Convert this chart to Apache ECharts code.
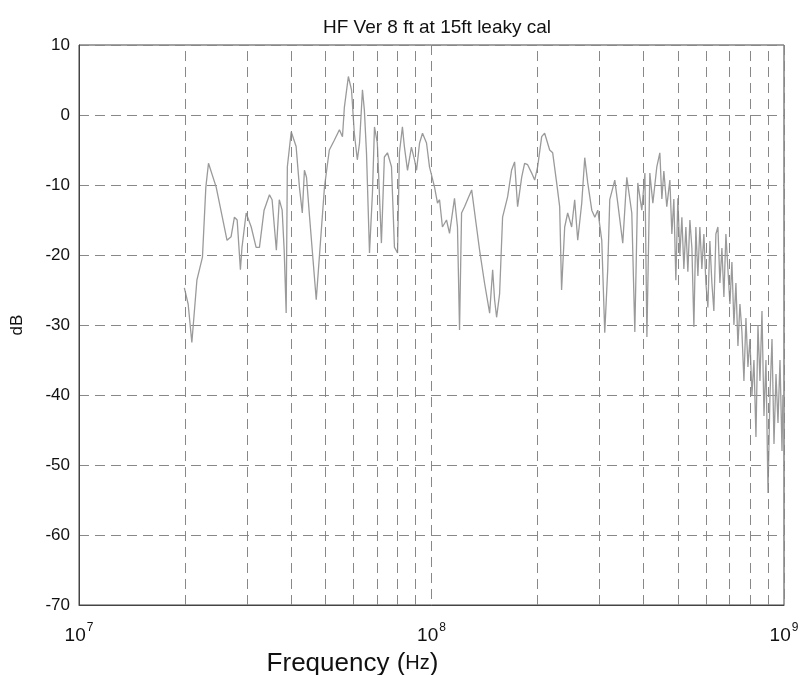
<!DOCTYPE html>
<html>
<head>
<meta charset="utf-8">
<script src="https://cdn.jsdelivr.net/npm/echarts@6/dist/echarts.min.js"></script>
<style>html,body{margin:0;padding:0;background:#fff;}#c{width:805px;height:675px;}</style>
</head>
<body>
<div id="c"></div>
<script>
// Frequency in MHz
const freqMHz = [
19.9,20.4,20.9,21.6,22.4,22.9,23.3,24.5,25.5,26.3,27.0,27.6,28.1,28.7,29.0,29.8,30.8,31.8,32.5,33.5,
34.7,35.3,36.3,37.0,37.7,38.2,38.7,39.0,40.0,41.3,42.2,43.0,43.6,44.2,45.1,47.1,49.7,51.3,53.0,54.8,
55.9,56.6,58.1,59.3,60.4,61.6,62.5,63.7,64.5,65.4,66.7,68.0,68.9,70.2,72.1,73.5,75.0,77.0,78.5,80.1,
81.1,82.7,83.8,85.5,87.7,89.5,90.7,92.5,94.3,96.8,98.7,102.0,104.0,105.4,107.4,110.3,112.5,116.2,118.5,120.1,
121.7,124.1,126.5,130.0,134.2,136.9,141.4,146.2,149.1,151.0,153.0,156.0,159.1,164.4,168.7,172.1,175.5,180.2,183.7,187.4,
192.4,196.2,200.0,205.4,209.4,216.4,220.7,226.5,231.0,233.9,238.7,243.4,249.8,254.8,259.9,266.8,272.1,277.5,284.9,290.6,
296.3,304.1,310.1,316.2,320.4,331.1,337.6,348.8,358.1,370.0,377.4,384.8,395.0,403.1,408.4,416.3,424.6,435.7,444.4,450.3,
456.2,465.0,474.5,480.7,487.0,493.4,499.9,506.5,513.2,519.9,526.8,533.7,540.8,547.9,555.1,562.3,569.8,577.2,584.8,592.5,
600.3,608.2,616.2,624.3,632.5,640.9,649.4,657.9,666.6,675.3,684.2,693.2,702.4,711.6,721.0,730.5,740.1,749.9,759.7,769.7,
779.9,790.1,800.5,811.1,821.8,832.6,843.6,854.7,866.0,877.4,888.9,900.7,912.5,924.6,936.7,949.1,961.5,974.2,987.0,993.0
];
// Level in dB
const levelDB = [
-24.7,-27,-32.5,-23.6,-20.3,-10.3,-6.9,-10.3,-14.6,-17.9,-17.4,-14.6,-15.0,-22.1,-18.9,-14.0,-16.0,-18.9,-18.9,-13.6,
-11.4,-12.1,-19.3,-12.1,-13.6,-19.3,-28.3,-7.4,-2.4,-4.5,-10.3,-14.0,-7.9,-8.9,-14.6,-26.4,-10.3,-5.0,-3.6,-2.1,
-3.1,1.1,5.5,3.6,-2.6,-6.4,-4.0,3.6,0.7,-5.4,-19.7,-11.1,-1.7,-4.0,-18.3,-6.0,-5.4,-7.4,-18.9,-19.7,
-5.4,-1.7,-4.6,-7.9,-4.6,-6.4,-7.9,-4.0,-2.6,-4.0,-7.4,-10.3,-12.6,-12.1,-16.0,-15.0,-16.9,-11.9,-16.0,-30.7,
-14.0,-13.1,-12.1,-10.7,-16.0,-19.3,-24.0,-28.3,-22.1,-26.4,-28.9,-25.6,-14.6,-11.7,-7.9,-6.7,-13.1,-8.9,-6.9,-7.1,
-8.3,-9.3,-7.4,-3.1,-2.6,-5.0,-5.4,-9.7,-13.1,-25.0,-16.0,-14.0,-16.0,-12.1,-17.9,-12.6,-6.1,-9.7,-13.6,-14.6,
-13.6,-17.9,-31.1,-22.0,-12.1,-9.3,-12.6,-18.3,-8.9,-14.0,-31.0,-9.7,-13.6,-8.3,-31.7,-8.3,-12.6,-7.4,-5.4,-12,
-8,-13.1,-9.3,-17,-12,-23.6,-11.9,-20,-14.6,-22,-16,-22.4,-15,-19,-30.3,-16,-23,-16,-22,-17,
-24,-27.5,-18,-24,-28,-17,-16,-24,-19,-26,-17,-22,-27,-21,-30,-24,-33,-27,-31,-38,
-29,-36,-32,-40,-35,-46,-30,-38,-28,-43,-35,-54,-40,-32,-47,-37,-44,-35,-48,-40
];
const yTicks = [-70,-60,-50,-40,-30,-20,-10,0,10];
const minorGridHz = [2e7,3e7,4e7,5e7,6e7,7e7,8e7,9e7,2e8,3e8,4e8,5e8,6e8,7e8,8e8,9e8];

const seriesData = freqMHz.map((f, i) => [f * 1e6, levelDB[i]]);

const FONT = 'Liberation Sans, Arial, sans-serif';
const chart = echarts.init(document.getElementById('c'), null, {renderer: 'canvas'});
const dash = [10, 6];
chart.setOption({
  animation: false,
  backgroundColor: '#fff',
  title: {
    text: 'HF Ver 8 ft at 15ft leaky cal',
    left: 432, top: 13, textAlign: 'center',
    textStyle: {fontFamily: FONT, fontSize: 19, fontWeight: 'normal', color: '#111'}
  },
  grid: {left: 79, right: 21, top: 45, bottom: 70, containLabel: false, outerBoundsMode: 'none',
         show: true, borderColor: '#444', borderWidth: 1, backgroundColor: '#fff'},
  xAxis: {
    type: 'log', logBase: 10, min: 1e7, max: 1e9,
    name: '{a|Frequency (}{b|Hz}{a|)}',
    nameLocation: 'middle', nameGap: 42,
    nameTextStyle: {
      padding: [0, 158, 0, 0],
      rich: {
        a: {fontFamily: FONT, fontSize: 26, color: '#111'},
        b: {fontFamily: FONT, fontSize: 20, color: '#111'}
      }
    },
    axisLine: {show: true, onZero: false, lineStyle: {color: '#444'}},
    axisTick: {show: false},
    splitLine: {show: true, lineStyle: {color: '#888', type: dash, width: 1}},
    axisLabel: {
      margin: 17,
      formatter: function (v) {
        const e = Math.round(Math.log10(v));
        return '{base|10}{sup|' + e + '}';
      },
      rich: {
        base: {fontFamily: FONT, fontSize: 19, color: '#111'},
        sup: {fontFamily: FONT, fontSize: 12, color: '#111', padding: [0, 0, 16, 1]}
      }
    }
  },
  yAxis: {
    type: 'value', min: -70, max: 10, interval: 10,
    name: 'dB', nameLocation: 'middle', nameGap: 53, nameRotate: 90,
    nameTextStyle: {fontFamily: FONT, fontSize: 17, color: '#111'},
    axisLine: {show: true, onZero: false, lineStyle: {color: '#444'}},
    axisTick: {show: false},
    splitLine: {show: true, lineStyle: {color: '#888', type: dash, width: 1}},
    axisLabel: {
      margin: 9,
      fontFamily: FONT, fontSize: 17, color: '#111',
      formatter: function (v) { return yTicks.indexOf(v) >= 0 ? String(v) : ''; }
    }
  },
  series: [{
    type: 'line',
    data: seriesData,
    showSymbol: false,
    lineStyle: {color: '#9a9a9a', width: 1.3},
    z: 3,
    markLine: {
      silent: true,
      symbol: 'none',
      label: {show: false},
      lineStyle: {color: '#888', type: dash, width: 1},
      data: minorGridHz.map(v => ({xAxis: v}))
    }
  }]
});
</script>
</body>
</html>
